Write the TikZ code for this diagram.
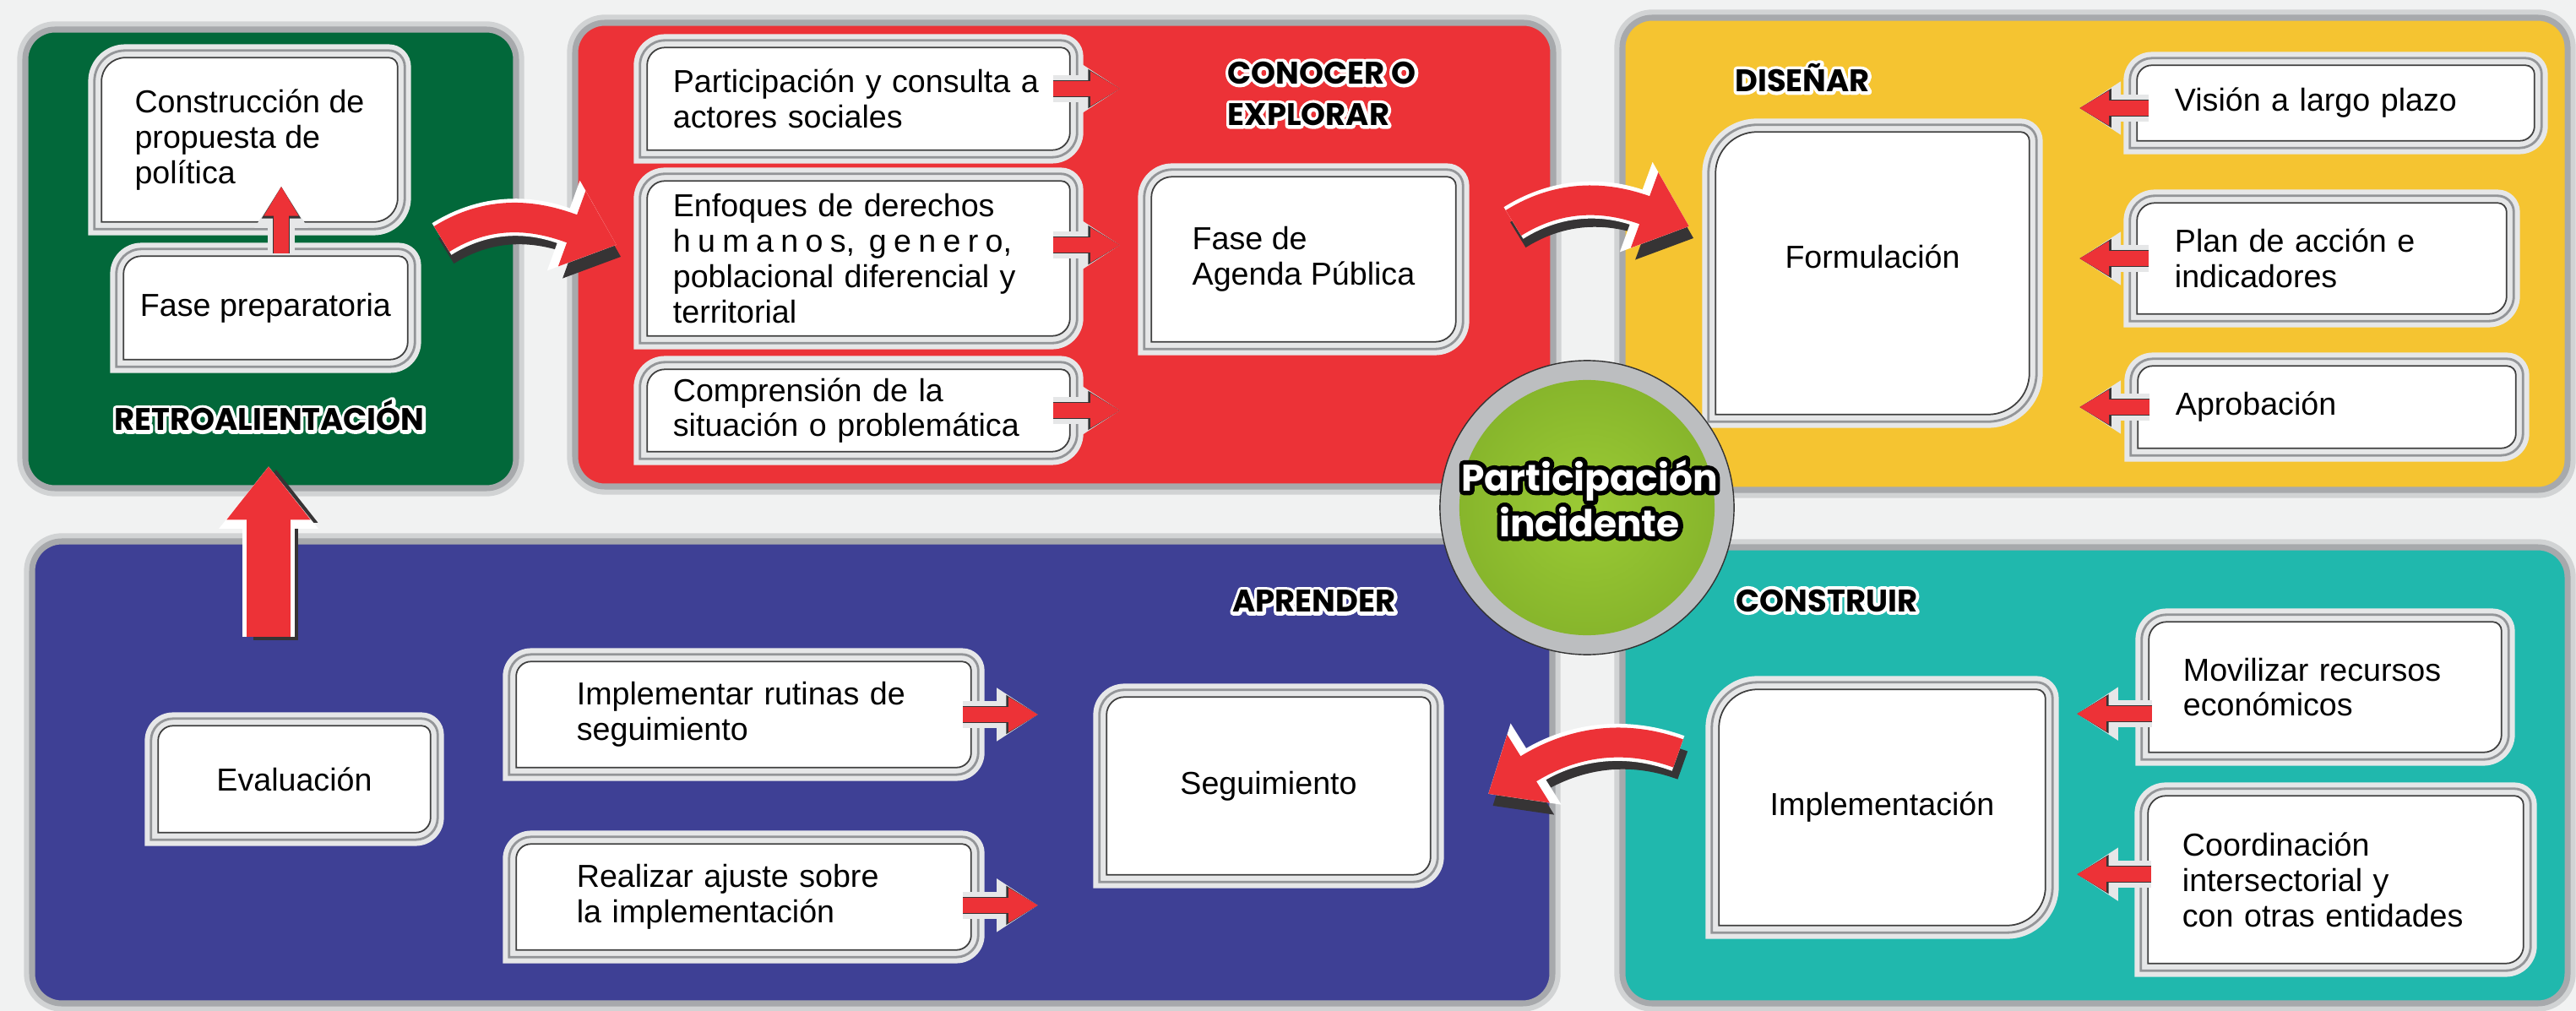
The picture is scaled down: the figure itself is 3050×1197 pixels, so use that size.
\documentclass[tikz,border=0pt]{standalone}
\usepackage{fontspec}
\setmainfont{Liberation Sans}
\newfontfamily\headfont{Poppins}
\usetikzlibrary{arrows.meta,backgrounds,calc}

\definecolor{bgpaper}{HTML}{F1F2F2}
\definecolor{retrogreen}{HTML}{02683A}
\definecolor{explred}{HTML}{EC3237}
\definecolor{designyellow}{HTML}{F5C431}
\definecolor{learnblue}{HTML}{3E4095}
\definecolor{buildteal}{HTML}{20B8AD}
\definecolor{hublime}{HTML}{9BCB35}
\definecolor{hubdark}{HTML}{84B22A}
\definecolor{hubring}{HTML}{BCBEC0}
\definecolor{arrowred}{HTML}{ED3237}
\definecolor{arrowshade}{HTML}{363435}
\definecolor{rimlight}{HTML}{E6E7E8}
\definecolor{rimgray}{HTML}{939598}
\definecolor{panelrim}{HTML}{A7A9AC}
\definecolor{panelhalo}{HTML}{D1D3D4}

% text with an outline: fill colour, outline colour, stroke width (bp), text
\newcommand{\outlined}[4]{\leavevmode\rlap{\color{#2}\special{pdf:literal direct 2 Tr #3 w 1 j}#4\special{pdf:literal direct 0 Tr}}{\color{#1}#4}}
\newcommand{\phasetext}[1]{\outlined{black}{white}{2.2}{#1}}
\newcommand{\hubtext}[1]{\outlined{white}{black}{3}{#1}}
% outline of a card: node, offset, radius
\newcommand{\cardpath}[3]{%
  ([shift={(-#2,-#2)}]#1.south west)
  -- ([shift={(-#2,{#2-(#3)})}]#1.north west)
  arc[start angle=180,end angle=90,radius=#3]
  -- ([shift={(-3pt,#2)}]#1.north east)
  arc[start angle=90,end angle=0,radius={#2+3pt}]
  -- ([shift={(#2,{(#3)-#2})}]#1.south east)
  arc[start angle=0,end angle=-90,radius=#3]
  -- cycle}
\newcommand{\cardframe}[2]{%
  \fill[cardrim] \cardpath{#1}{4.5pt}{#2+4.5pt};
  \draw[cardring] \cardpath{#1}{2.4pt}{#2+2.4pt};
  \filldraw[cardface] \cardpath{#1}{0pt}{#2};}

\tikzset{
    panel/.style={rounded corners=10pt,draw=panelrim,line width=2pt,
        preaction={draw=panelhalo,line width=5.5pt}},
    card/.style={align=left,inner sep=0pt,font=\fontsize{10.7}{11.9}\selectfont},
    cardrim/.style={fill=rimlight},
    cardring/.style={draw=rimgray,line width=0.8pt},
    cardface/.style={fill=white,draw=black!75,line width=0.5pt},
    phase/.style={inner sep=0pt,align=left,font=\headfont\bfseries\fontsize{10.5}{14}\selectfont},
    hub/.style={circle,minimum size=3.48cm,inner sep=0pt,fill=hubring,draw=black!80,line width=0.4pt,
        path picture={\shade[inner color=hublime,outer color=hubdark]
            (path picture bounding box.center) circle[radius=1.51cm];}},
    hublabel/.style={inner sep=0pt,align=center,font=\headfont\bfseries\fontsize{12.5}{15.4}\selectfont},
    smallarr/.style={draw=arrowred,line width=5pt,-{Triangle[length=10pt,width=11pt]},
        preaction={draw=rimlight,line width=9pt,-{Triangle[length=14pt,width=17pt]}},
        preaction={draw=arrowshade,line width=5.8pt,-{Triangle[length=10.8pt,width=12.4pt]}}},
    bigarr/.style={draw=arrowred,line width=10pt,-{Triangle[length=16pt,width=26pt]},
        preaction={draw=arrowshade,line width=10pt,-{Triangle[length=16pt,width=26pt]},
            transform canvas={shift={(1.5pt,-4pt)}}},
        preaction={draw=white,line width=12.5pt,-{Triangle[length=19pt,width=31pt]}}},
    uparr/.style={draw=arrowred,line width=15pt,-{Triangle[length=18pt,width=27pt]},
        preaction={draw=arrowshade,line width=15pt,-{Triangle[length=18pt,width=27pt]},
            transform canvas={shift={(2.5pt,-1pt)}}},
        preaction={draw=white,line width=17.5pt,-{Triangle[length=21pt,width=32pt]}}},
}

\begin{document}
\begin{tikzpicture}[x=0.01cm,y=-0.01cm]
    \useasboundingbox (0,0) rectangle (3050,1197);

    \begin{scope}[on background layer]
        \fill[bgpaper] (0,0) rectangle (3050,1197);
        \draw[panel,fill=retrogreen] (30,35) rectangle (611,578);
        \draw[panel,fill=explred] (681,27) rectangle (1839,576);
        \draw[panel,fill=designyellow] (1921,21) rectangle (3040,580);
        \draw[panel,fill=learnblue] (38,641) rectangle (1838,1188);
        \draw[panel,fill=buildteal] (1921,648) rectangle (3040,1188);
    \end{scope}

    % retroalimentacion
    \node[card,minimum width=3.49cm,minimum height=1.93cm] (cons) at (295.5,165.5) {Construcción de\\propuesta de\\política};
    \node[card,minimum width=3.35cm,minimum height=1.21cm] (prep) at (314.5,364.5) {Fase preparatoria};
    \node[phase] (retro) at (319,492) {\phasetext{RETROALIENTACIÓN}};

    % conocer o explorar
    \node[card,text width=4.39cm,minimum width=4.99cm,minimum height=1.20cm] (part1) at (1016.5,117) {Participación y consulta a\\actores sociales};
    \node[card,text width=4.39cm,minimum width=4.99cm,minimum height=1.82cm] (part2) at (1016.5,306)
        {\makebox[4.01cm][s]{Enfoques de derechos}\\
         \makebox[4.01cm][l]{h\hfill u\hfill m\hfill a\hfill n\hfill o\hfill s,\hfill\hfill g\hfill e\hfill n\hfill e\hfill r\hfill o,}\\
         \makebox[4.01cm][s]{poblacional diferencial y}\\
         territorial};
    \node[card,text width=4.39cm,minimum width=4.99cm,minimum height=0.96cm] (part3) at (1016.5,486) {Comprensión de la\\situación o problemática};
    \node[card,minimum width=3.59cm,minimum height=1.94cm] (agenda) at (1543.5,307) {Fase de\\Agenda Pública};
    \node[phase,anchor=west] (explore) at (1453,111) {\phasetext{CONOCER O}\\\phasetext{EXPLORAR}};

    % disenar
    \node[card,minimum width=3.70cm,minimum height=3.33cm,text depth=0.4cm] (form) at (2217,323.5) {Formulación};
    \node[card,text width=3.81cm,minimum width=4.69cm,minimum height=0.88cm] (vis) at (2765.5,122) {Visión a largo plazo};
    \node[card,text width=3.48cm,minimum width=4.36cm,minimum height=1.30cm] (plan) at (2749,306) {Plan de acción e\\indicadores};
    \node[card,text width=3.58cm,minimum width=4.46cm,minimum height=0.96cm] (aprob) at (2755,482) {Aprobación};
    \node[phase] (design) at (2134,92) {\phasetext{DISEÑAR}};

    % aprender
    \node[card,minimum width=3.21cm,minimum height=1.25cm] (eval) at (348.5,922.5) {Evaluación};
    \node[card,text width=3.95cm,minimum width=5.37cm,minimum height=1.24cm] (impl) at (880.5,846) {Implementar rutinas de\\seguimiento};
    \node[card,text width=3.95cm,minimum width=5.37cm,minimum height=1.24cm] (real) at (880.5,1062) {Realizar ajuste sobre\\la implementación};
    \node[card,minimum width=3.82cm,minimum height=2.09cm] (seg) at (1502,930.5) {Seguimiento};
    \node[phase] (learn) at (1556,712) {\phasetext{APRENDER}};

    % construir
    \node[card,minimum width=3.85cm,minimum height=2.78cm] (implem) at (2228.5,956) {Implementación};
    \node[card,text width=3.36cm,minimum width=4.16cm,minimum height=1.53cm] (mov) at (2753,813.5) {Movilizar recursos\\económicos};
    \node[card,text width=3.63cm,minimum width=4.43cm,minimum height=1.97cm] (coord) at (2765.5,1041.5) {Coordinación\\intersectorial y\\con otras entidades};
    \node[phase] (build) at (2163,711) {\phasetext{CONSTRUIR}};

    \begin{scope}[on background layer]
        \foreach \n/\r in {cons/8pt,prep/6pt,part1/6pt,part2/6pt,part3/6pt,agenda/7pt,
                form/14pt,vis/5pt,plan/6pt,aprob/5pt,eval/5pt,impl/5pt,real/5pt,
                seg/6pt,implem/13pt,mov/6pt,coord/6pt}
            {\cardframe{\n}{\r}}
    \end{scope}

    % small arrows
    \draw[smallarr] ($(prep.north)+(0.185cm,1pt)$) -- ($(prep.north |- cons.south)+(0.185cm,12pt)$);
    \draw[smallarr] ($(part1.east)+(-5.7pt,3.4pt)$) -- ($(agenda.west |- part1.east)+(-10.5pt,3.4pt)$);
    \draw[smallarr] ($(part2.east)+(-5.7pt,4.5pt)$) -- ($(agenda.west |- part2.east)+(-10.5pt,4.5pt)$);
    \draw[smallarr] ($(part3.east)+(-5.7pt,0)$) -- ($(agenda.west |- part3.east)+(-10.5pt,0)$);
    \draw[smallarr] ($(vis.west)+(4pt,-1.7pt)$) -- ($(form.east |- vis.west)+(16.8pt,-1.7pt)$);
    \draw[smallarr] ($(plan.west)+(4pt,0)$) -- ($(form.east |- plan.west)+(16.8pt,0)$);
    \draw[smallarr] ($(aprob.west)+(4pt,0)$) -- ($(form.east |- aprob.west)+(16.8pt,0)$);
    \draw[smallarr] ($(impl.east)+(-2.8pt,0)$) -- ($(seg.west |- impl.east)+(-23pt,0)$);
    \draw[smallarr] ($(real.east)+(-2.8pt,-2.8pt)$) -- ($(seg.west |- real.east)+(-23pt,-2.8pt)$);
    \draw[smallarr] ($(mov.west)+(1pt,-9pt)$) -- ($(implem.east |- mov.west)+(10.5pt,-9pt)$);
    \draw[smallarr] ($(coord.west)+(1pt,1.8pt)$) -- ($(implem.east |- coord.west)+(10.5pt,1.8pt)$);

    % big arrows between the phases
    \coordinate (retroOut) at (523,283);
    \coordinate (exploreIn) at (730,290);
    \coordinate (exploreOut) at (1792,264);
    \coordinate (designIn) at (2000,268);
    \coordinate (buildOut) at (1987,892);
    \coordinate (learnIn) at (1762,940);
    \coordinate (learnOut) at (318,754);
    \coordinate (retroIn) at (318,552);
    \draw[bigarr] (retroOut) to[out=32,in=160] (exploreIn);
    \draw[bigarr] (exploreOut) to[out=32,in=160] (designIn);
    \draw[bigarr] (buildOut) to[out=160,in=32] (learnIn);
    \draw[uparr] (learnOut) -- (retroIn);

    \node[hub] (hub) at (1879,601) {};
    \node[hublabel] (hubname) at (1882,590) {\hubtext{Participación}\\\hubtext{incidente}};
\end{tikzpicture}
\end{document}
